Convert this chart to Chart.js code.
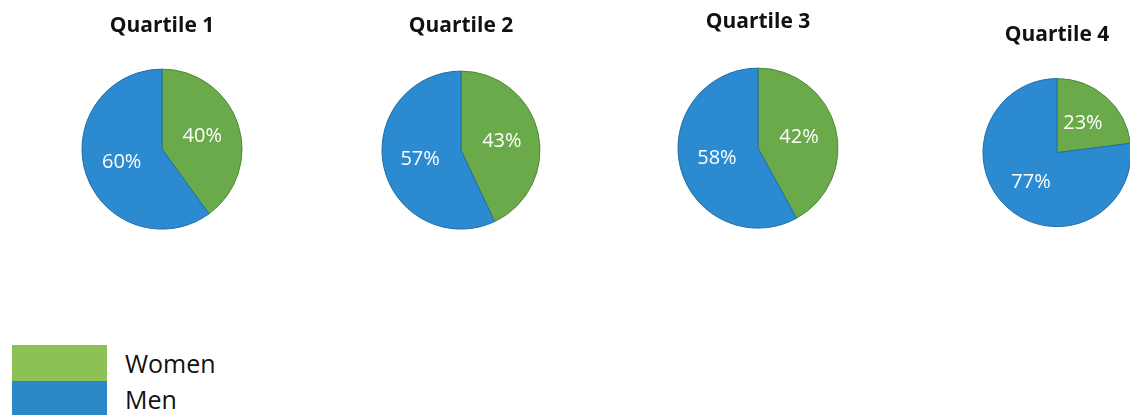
<!DOCTYPE html>
<html>
<head>
<meta charset="utf-8">
<script src="https://cdn.jsdelivr.net/npm/chart.js@4.4.0/dist/chart.umd.min.js"></script>
<style>
  html, body { margin: 0; padding: 0; background: #fff; width: 1130px; height: 415px; overflow: hidden; }
  .pie { position: absolute; width: 200px; }
  .legend { position: absolute; left: 12px; top: 345px; font-family: "Open Sans", sans-serif; font-size: 25px; color: #111; }
  .legend .row { display: flex; align-items: center; height: 36px; }
  .legend .box { width: 95px; height: 36px; margin-right: 18px; }
</style>
</head>
<body>
<div class="pie" style="left:62px;top:0;height:250px"><canvas id="q1"></canvas></div>
<div class="pie" style="left:361px;top:0;height:252px"><canvas id="q2"></canvas></div>
<div class="pie" style="left:658px;top:0;height:252px"><canvas id="q3"></canvas></div>
<div class="pie" style="left:957px;top:0;height:248px"><canvas id="q4"></canvas></div>
<div class="legend" id="legend"></div>
<script>
var quartiles = ['Quartile 1', 'Quartile 2', 'Quartile 3', 'Quartile 4'];
var categories = ['Women', 'Men'];
var women = [40, 43, 42, 23];
var men = [60, 57, 58, 77];

var pieColors = ['#6aaa4a', '#2c8ad0'];
var edgeColors = ['#4e8a36', '#1f6ea8'];
var legendColors = ['#8cc255', '#2a88c8'];

// per pie: radius and title padding (top) so the layout lines up
var radii = [80, 79, 80, 74];
var titleTop = [13, 13, 9, 22];

var pctLabels = {
  id: 'pctLabels',
  afterDatasetsDraw: function(chart) {
    var ctx = chart.ctx;
    var meta = chart.getDatasetMeta(0);
    var values = chart.data.datasets[0].data;
    ctx.save();
    ctx.fillStyle = '#fff';
    ctx.font = '20px "Open Sans", sans-serif';
    ctx.textAlign = 'center';
    ctx.textBaseline = 'middle';
    meta.data.forEach(function(arc, i) {
      var p = arc.getProps(['x', 'y', 'startAngle', 'endAngle', 'outerRadius'], true);
      var mid = (p.startAngle + p.endAngle) / 2;
      var d = p.outerRadius * 0.53;
      ctx.fillText(values[i] + '%', p.x + Math.cos(mid) * d, p.y + Math.sin(mid) * d);
    });
    ctx.restore();
  }
};

quartiles.forEach(function(q, i) {
  var ctx = document.getElementById('q' + (i + 1)).getContext('2d');
  new Chart(ctx, {
    type: 'pie',
    data: {
      labels: categories,
      datasets: [{
        data: [women[i], men[i]],
        backgroundColor: pieColors,
        borderColor: edgeColors,
        borderWidth: 1
      }]
    },
    options: {
      responsive: true,
      maintainAspectRatio: false,
      animation: false,
      radius: radii[i],
      layout: { padding: 0 },
      plugins: {
        legend: { display: false },
        tooltip: { enabled: false },
        title: {
          display: true,
          text: q,
          color: '#111',
          font: { family: '"Open Sans", sans-serif', size: 21, weight: 'bold' },
          padding: { top: titleTop[i], bottom: 10 }
        }
      }
    },
    plugins: [pctLabels]
  });
});

var legend = document.getElementById('legend');
categories.forEach(function(c, i) {
  var row = document.createElement('div');
  row.className = 'row';
  row.innerHTML = '<div class="box" style="background:' + legendColors[i] + '"></div><span>' + c + '</span>';
  legend.appendChild(row);
});
</script>
</body>
</html>
